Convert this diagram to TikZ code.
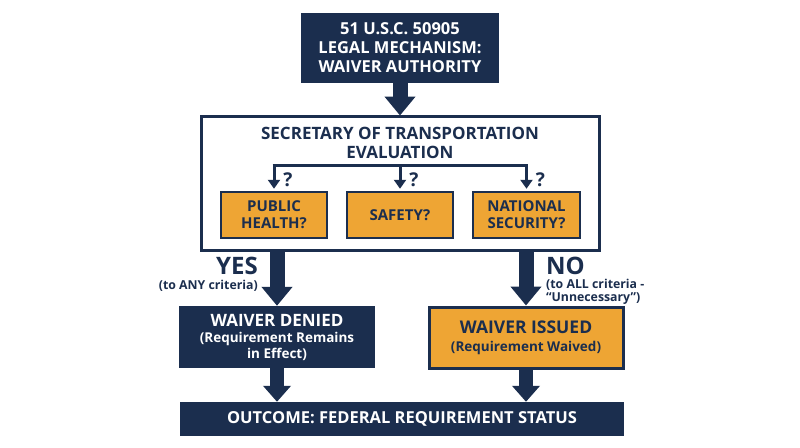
\documentclass[tikz,border=0pt]{standalone}
\usepackage{fontspec}
\setmainfont{Open Sans}
\usetikzlibrary{arrows.meta}
\definecolor{navy}{RGB}{27,46,78}
\definecolor{amber}{RGB}{238,165,52}
\tikzset{
  navybox/.style={fill=navy, text=white, inner sep=0pt, align=center, font=\bfseries\fontsize{16.5}{19}\selectfont},
  amberbox/.style={fill=amber, draw=navy, line width=2.5pt, text=navy, inner sep=0pt, align=center, font=\bfseries\fontsize{15}{17}\selectfont},
  evalbox/.style={draw=navy, line width=3pt, fill=white, inner sep=0pt},
  bigarrow/.style={draw=navy, line width=15pt, -{Triangle[length=19pt,width=30pt]}},
  shortarrow/.style={draw=navy, line width=14pt, -{Triangle[length=16pt,width=27pt]}},
  thinline/.style={draw=navy, line width=3pt},
  thinarrow/.style={draw=navy, line width=3pt, -{Triangle[length=9pt,width=12pt]}},
  qmark/.style={text=navy, font=\bfseries\fontsize{19}{20}\selectfont},
  bigword/.style={text=navy, font=\bfseries\fontsize{24}{26}\selectfont, inner sep=0pt},
  subword/.style={text=navy, font=\bfseries\fontsize{12.3}{13}\selectfont, inner sep=0pt},
}
\begin{document}
\begin{tikzpicture}[x=1pt,y=-1pt]
\useasboundingbox[fill=white] (0,0) rectangle (800,447);
% top box
\node[navybox, minimum width=198pt, minimum height=70pt] (top) at (400,48) {51 U.S.C. 50905\\LEGAL MECHANISM:\\WAIVER AUTHORITY};
% evaluation box
\node[evalbox, minimum width=398pt, minimum height=134pt] (eval) at (400,183) {};
\node[text=navy, align=center, font=\bfseries\fontsize{17}{19}\selectfont, inner sep=0pt] (evt) at (400,142.5) {SECRETARY OF TRANSPORTATION\\EVALUATION};
% criteria
\node[amberbox, minimum width=106pt, minimum height=46pt] (ph) at (274,215) {PUBLIC\\HEALTH?};
\node[amberbox, minimum width=106pt, minimum height=46pt] (sf) at (400,215) {SAFETY?};
\node[amberbox, minimum width=107pt, minimum height=46pt] (ns) at (526.5,215) {NATIONAL\\SECURITY?};
\coordinate (brL) at (274,165);
\coordinate (brM) at (400,165);
\coordinate (brR) at (526.5,165);
\draw[thinline] ([xshift=-1.5pt]brL) -- ([xshift=1.5pt]brR);
\draw[thinarrow] (brL) -- ([yshift=2pt]ph.north);
\draw[thinarrow] (brM) -- ([yshift=2pt]sf.north);
\draw[thinarrow] (brR) -- ([yshift=2pt]ns.north);
\node[qmark] (q1) at (288,180) {?};
\node[qmark] (q2) at (414,180) {?};
\node[qmark] (q3) at (540.5,180) {?};
% outcomes
\node[navybox, minimum width=196pt, minimum height=62pt, font=\bfseries\fontsize{17}{16}\selectfont] (den) at (277,337) {WAIVER DENIED\\{\fontsize{13.5}{16}\selectfont (Requirement Remains}\\{\fontsize{13.5}{16}\selectfont in Effect)}};
\node[amberbox, line width=3pt, minimum width=194pt, minimum height=61pt, font=\bfseries\fontsize{17.5}{18}\selectfont] (iss) at (526,337.5) {WAIVER ISSUED\\{\fontsize{13.5}{18}\selectfont (Requirement Waived)}};
\node[navybox, minimum width=444pt, minimum height=34pt] (out) at (402,419) {OUTCOME: FEDERAL REQUIREMENT STATUS};
% big arrows
\draw[bigarrow] (top.south) -- ([yshift=-1pt]eval.north);
\draw[bigarrow] (den.north |- eval.south) -- (den.north);
\draw[bigarrow] (iss.north |- eval.south) -- (iss.north);
\draw[shortarrow] (den.south) -- (den.south |- out.north);
\draw[shortarrow] (iss.south) -- (iss.south |- out.north);
% labels
\node[bigword, anchor=east] (yes) at (258,265.5) {YES};
\node[subword, anchor=east] (yessub) at (258,285.5) {(to ANY criteria)};
\node[bigword, anchor=west] (no) at (546,265.5) {NO};
\node[subword, anchor=north west, align=left] (nosub) at (546,279) {(to ALL criteria -\\“Unnecessary”)};
\end{tikzpicture}
\end{document}
